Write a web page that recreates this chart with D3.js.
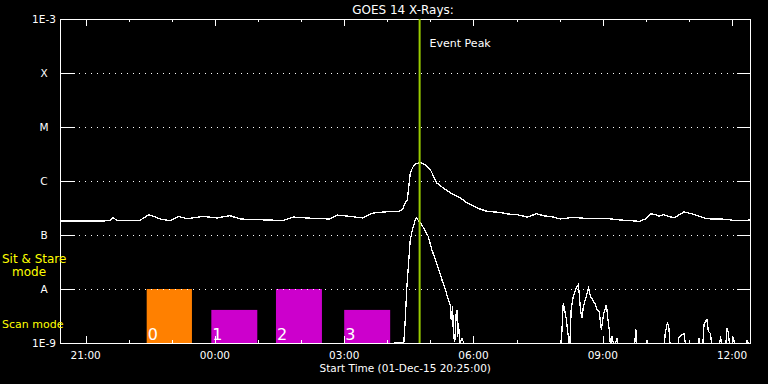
<!DOCTYPE html>
<html>
<head>
<meta charset="utf-8">
<title>GOES 14 X-Rays</title>
<script src="https://cdnjs.cloudflare.com/ajax/libs/d3/7.8.5/d3.min.js"></script>
<style>
  body{ margin:0; background:#000; }
  svg{ display:block; }
  text{ font-family:"DejaVu Sans", sans-serif; fill:#fff; }
</style>
</head>
<body>
<div id="chart"></div>
<script>
// GOES 14 long channel (1-8 A), times after 20:25 on 01-Dec-15
var longTimes = ["20:25","21:06","21:34","21:38","21:45","22:16","22:28","22:44","22:58","23:09","23:21","23:44",
  "00:03","00:21","00:35","00:59","01:35","01:49","02:17","02:40","02:50","03:08","03:26","03:40","04:00","04:15",
  "04:21","04:25","04:28","04:32","04:36","04:40","04:46","04:53","05:00","05:09","05:18","05:28","05:42","05:51",
  "06:05","06:19","06:37","06:47","07:01","07:15","07:28","07:37","07:51","08:01","08:19","08:43","09:06","09:24",
  "09:52","09:59","10:06","10:13","10:18","10:25","10:39","10:53","11:00","11:11","11:21","11:30","11:53","12:02",
  "12:16","12:25"];
var longFlux = [1.82e-7,1.82e-7,1.83e-7,2.09e-7,1.83e-7,1.88e-7,2.38e-7,1.98e-7,1.83e-7,2.21e-7,2.0e-7,2.21e-7,
  2.07e-7,2.28e-7,1.98e-7,1.92e-7,1.86e-7,2.15e-7,2.03e-7,1.98e-7,2.34e-7,2.21e-7,2.07e-7,2.55e-7,2.70e-7,2.70e-7,
  2.94e-7,3.92e-7,4.51e-7,1.43e-6,1.84e-6,2.09e-6,2.18e-6,2.0e-6,1.62e-6,9.18e-7,7.42e-7,6.0e-7,4.84e-7,3.92e-7,
  3.16e-7,2.74e-7,2.62e-7,2.45e-7,2.38e-7,2.15e-7,2.48e-7,2.28e-7,2.15e-7,1.98e-7,2.12e-7,2.0e-7,2.02e-7,1.90e-7,
  1.79e-7,1.98e-7,2.45e-7,2.42e-7,2.21e-7,2.38e-7,2.07e-7,2.67e-7,2.55e-7,2.31e-7,2.07e-7,1.98e-7,1.96e-7,1.86e-7,
  1.85e-7,1.9e-7];

// GOES 14 short channel (0.5-4 A), mostly below 1E-9
var shortTimes = ["20:25","04:23","04:25","04:27","04:30","04:32","04:35","04:39","04:41","04:44","04:48","04:53",
  "04:57","05:02","05:07","05:11","05:16","05:21","05:25","05:28","05:29","05:31","05:32","05:34","05:36","05:37",
  "05:38","05:39","05:41","05:44","05:50","08:02","08:05","08:09","08:14","08:16","08:19","08:23","08:26","08:27",
  "08:29","08:31","08:33","08:37","08:40","08:43","08:46","08:50","08:52","08:55","08:58","09:01","09:05","09:07",
  "09:09","09:11","09:13","09:16","09:20","09:22","09:44","09:46","09:48","10:00","10:02","10:04","10:25","10:27",
  "10:30","10:32","10:34","10:44","10:46","10:50","10:53","10:56","11:12","11:14","11:16","11:19","11:21","11:23",
  "11:25","11:27","11:30","11:32","11:42","11:44","11:46","11:51","11:53","11:55","11:57","12:00","12:02","12:04",
  "12:19","12:21","12:25"];
var shortFlux = [8e-10,1e-9,2.7e-9,9.7e-9,3.49e-8,8.19e-8,1.25e-7,1.92e-7,2.07e-7,1.79e-7,1.55e-7,1.17e-7,
  9.42e-8,5.35e-8,3.49e-8,2.45e-8,1.49e-8,9.7e-9,6.3e-9,4.76e-9,2.7e-9,4.76e-9,1.32e-9,1.07e-9,3.6e-9,4.14e-9,
  1.32e-9,2.34e-9,1e-9,1.2e-9,8e-10,8e-10,5.5e-9,2.9e-9,8e-10,4.14e-9,7.3e-9,1.04e-8,1.2e-8,9.0e-9,
  4.14e-9,2.9e-9,4.76e-9,7.3e-9,1.04e-8,7.3e-9,6.3e-9,5.1e-9,4.14e-9,3.85e-9,1.76e-9,3.34e-9,5.1e-9,2.9e-9,
  1.76e-9,8e-10,1.32e-9,8e-10,1.25e-9,8e-10,8e-10,1.8e-9,8e-10,8e-10,1.15e-9,8e-10,8e-10,1.5e-9,
  2.4e-9,1.9e-9,8e-10,8e-10,1.25e-9,1.4e-9,1.5e-9,8e-10,8e-10,1.25e-9,8e-10,8e-10,2.2e-9,2.5e-9,
  2.7e-9,1.64e-9,1.5e-9,8e-10,8e-10,1.32e-9,8e-10,8e-10,1.9e-9,1.5e-9,8e-10,8e-10,1.3e-9,8e-10,
  8e-10,1.15e-9,8e-10];

// observation blocks along the bottom (0 = sit & stare, rest = scan)
var obsLabels = ["0","1","2","3"];
var obsStart = ["22:25","23:55","01:25","03:00"];
var obsEnd = ["23:28","00:59","02:29","04:04"];
var obsMode = ["sit","scan","sit","scan"];
var obsLevel = {sit: 1e-8, scan: 4.1e-9};

var yTicks = [1e-9,1e-8,1e-7,1e-6,1e-5,1e-4,1e-3];
var yTickLabels = ["1E-9","A","B","C","M","X","1E-3"];
var peakTime = "04:45";

var width = 768, height = 384;
var plotL = 60.5, plotR = 750, plotT = 19, plotB = 343;

//times before 20:00 belong to the next day
function toDate(s){
  var p = s.split(":"), h = +p[0], m = +p[1];
  return new Date(2015, 11, h >= 20 ? 1 : 2, h, m);
}

var x = d3.scaleTime()
  .domain([new Date(2015,11,1,20,25), new Date(2015,11,2,12,25)])
  .range([plotL, plotR]);
var y = d3.scaleLog().domain([1e-9,1e-3]).range([plotB, plotT]);

var svg = d3.select("#chart").append("svg")
  .attr("width", width).attr("height", height);

svg.append("rect").attr("width", width).attr("height", height).attr("fill", "#000");

svg.append("clipPath").attr("id","plot")
  .append("rect").attr("x", plotL).attr("y", plotT).attr("width", plotR-plotL).attr("height", plotB-plotT);

// bars for the observing modes
var bars = svg.append("g");
obsLabels.forEach(function(lab, i){
  var x0 = x(toDate(obsStart[i])), x1 = x(toDate(obsEnd[i]));
  var yt = y(obsLevel[obsMode[i]]);
  bars.append("rect")
    .attr("x", x0).attr("y", yt)
    .attr("width", x1-x0).attr("height", plotB-yt)
    .attr("fill", i == 0 ? "#ff8000" : "#cc00cc");
  bars.append("text")
    .attr("x", x0+1).attr("y", plotB-3)
    .style("font-size","16px")
    .text(lab);
});

// horizontal dotted grid + inner ticks
var grid = svg.append("g").attr("shape-rendering","crispEdges");
yTicks.forEach(function(v, i){
  var yy = Math.round(y(v)) + 0.5;
  if(i > 0 && i < yTicks.length-1){
    grid.append("line").attr("x1", plotL+18).attr("x2", plotR-16)
      .attr("y1", yy).attr("y2", yy)
      .attr("stroke","#fff").attr("stroke-dasharray","1,5");
    grid.append("line").attr("x1", plotL).attr("x2", plotL+14).attr("y1", yy).attr("y2", yy).attr("stroke","#fff");
    grid.append("line").attr("x1", plotR-13).attr("x2", plotR).attr("y1", yy).attr("y2", yy).attr("stroke","#fff");
  }
  svg.append("text")
    .attr("x", 44).attr("y", y(v)+4)
    .attr("text-anchor","middle")
    .style("font-size","10.5px")
    .text(yTickLabels[i]);
});

// time ticks, major every 3 hours
var hours = d3.timeHour.every(1).range(x.domain()[0], x.domain()[1]);
hours.forEach(function(d){
  var xx = Math.round(x(d)) + 0.5;
  var major = d.getHours() % 3 == 0;
  var len = major ? 7 : 3;
  grid.append("line").attr("x1", xx).attr("x2", xx).attr("y1", plotT).attr("y2", plotT+len).attr("stroke","#fff");
  grid.append("line").attr("x1", xx).attr("x2", xx).attr("y1", plotB).attr("y2", plotB-len).attr("stroke","#fff");
  if(major){
    svg.append("text")
      .attr("x", x(d)).attr("y", 359)
      .attr("text-anchor","middle")
      .style("font-size","10.5px")
      .text(d3.timeFormat("%H:%M")(d));
  }
});

// frame
svg.append("rect")
  .attr("x", plotL).attr("y", plotT+0.5)
  .attr("width", plotR-plotL).attr("height", plotB-plotT)
  .attr("fill","none").attr("stroke","#fff")
  .attr("shape-rendering","crispEdges");

// flux curves, drawn aliased like the original plot
var line = d3.line()
  .x(function(d){ return x(d[0]); })
  .y(function(d){ return y(d[1]); });
var longData = longTimes.map(function(t,i){ return [toDate(t), longFlux[i]]; });
var shortData = shortTimes.map(function(t,i){ return [toDate(t), shortFlux[i]]; });
var curves = svg.append("g").attr("clip-path","url(#plot)");
[longData, shortData].forEach(function(data){
  curves.append("path")
    .attr("d", line(data))
    .attr("fill","none").attr("stroke","#fff").attr("stroke-width",1.3)
    .attr("shape-rendering","crispEdges");
});

// event peak marker
var px = x(toDate(peakTime));
svg.append("line")
  .attr("x1", px).attr("x2", px).attr("y1", plotT).attr("y2", plotB)
  .attr("stroke","#99cc00").attr("stroke-width",2);
svg.append("text")
  .attr("x", px+10).attr("y", 47)
  .style("font-size","11px")
  .text("Event Peak");

// titles
svg.append("text")
  .attr("x", 403).attr("y", 14)
  .attr("text-anchor","middle")
  .style("font-size","12px")
  .text("GOES 14 X-Rays:");
svg.append("text")
  .attr("x", (plotL+plotR)/2).attr("y", 372)
  .attr("text-anchor","middle")
  .style("font-size","10.5px")
  .text("Start Time (01-Dec-15 20:25:00)");

// mode labels on the left
svg.append("text").attr("x", 2).attr("y", 263).style("font-size","12px").style("fill","#ffff00").text("Sit & Stare");
svg.append("text").attr("x", 12).attr("y", 276).style("font-size","12px").style("fill","#ffff00").text("mode");
svg.append("text").attr("x", 2).attr("y", 328).style("font-size","11px").style("fill","#ffff00").text("Scan mode");
</script>
</body>
</html>
